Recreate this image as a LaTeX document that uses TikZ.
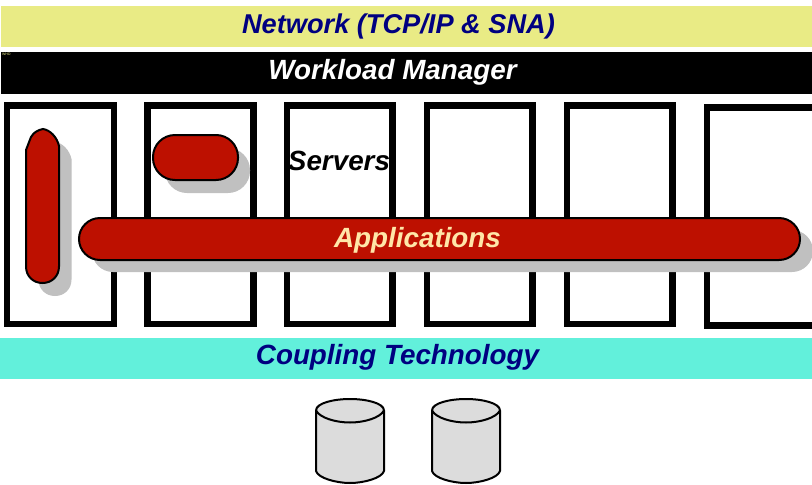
\documentclass[tikz,border=0pt]{standalone}
\usepackage{fontspec}
\setmainfont{Liberation Sans}
\definecolor{navy}{HTML}{000080}
\definecolor{barY}{HTML}{E9EB85}
\definecolor{barT}{HTML}{62F0DB}
\definecolor{pill}{HTML}{BD1000}
\definecolor{shadecol}{HTML}{C0C0C0}
\definecolor{cyl}{HTML}{DCDCDC}
\definecolor{cream}{HTML}{FFE6A8}
\tikzset{
  x=1pt,y=-1pt,
  px/.style={inner sep=0pt,outer sep=0pt},
  bar/.style={px,anchor=north west,minimum width=812pt,minimum height=#1},
  server/.style={px,draw=black,line width=6.5pt,anchor=north west,minimum width=105pt,minimum height=218.5pt},
  pillbox/.style={px,fill=pill,draw=black,line width=2pt,anchor=north west},
  pillshade/.style={px,fill=shadecol,anchor=north west},
  title/.style={font=\bfseries\itshape\fontsize{27.8}{30}\selectfont},
}
\begin{document}
\begin{tikzpicture}
\useasboundingbox (0,0) rectangle (812,485);
\fill[white] (0,0) rectangle (812,485);
\node[bar=41pt,fill=barY] (net) at (1,6) {};
\node[bar=42pt,fill=black] (wlm) at (1,52) {};
\node[bar=41pt,fill=barT] (cpl) at (0,338) {};
\node[title,text=navy,font=\bfseries\itshape\fontsize{27.2}{30}\selectfont] (netT) at (398.5,26) {Network (TCP/IP \& SNA)};
\node[title,text=white] (wlmT) at (392.5,72.5) {Workload Manager};
\node[title,text=navy] (cplT) at (397.5,357.5) {Coupling Technology};
\node[px,anchor=north west,text=barY,font=\fontsize{3.5}{4}\selectfont] (who) at (2,53.5) {WHO};
\node[server,minimum width=107pt] (s1) at (6.8,105.5) {};
\node[server,minimum width=106pt] (s2) at (147.3,105.5) {};
\node[server,minimum width=105.5pt] (s3) at (287,105.5) {};
\node[server,minimum width=105.5pt] (s4) at (427,105.5) {};
\node[server,minimum width=105.5pt] (s5) at (567,105.5) {};
\node[server,minimum width=112pt,minimum height=218pt] (s6) at (707,107.5) {};
% vertical pill
\newcommand{\vpill}{(26,150) -- (31,137) .. controls (34,132) and (38,130) .. (43,129) .. controls (50,130) and (57,137) .. (59,146) -- (59,266.5) .. controls (59,276) and (52,283) .. (42.5,283) .. controls (33,283) and (26,276) .. (26,266.5) -- cycle}
\fill[fill=shadecol,shift={(12.5pt,-13pt)}] \vpill;
\draw[fill=pill,draw=black,line width=2pt] \vpill;
% small pill
\node[pillshade,minimum width=85pt,minimum height=45pt,rounded corners=22pt] (p0) at (165,148) {};
\node[pillbox,minimum width=85pt,minimum height=45pt,rounded corners=22pt] (p1) at (153,135) {};
% long pill
\node[pillshade,minimum width=721pt,minimum height=42pt,rounded corners=21pt] (a0) at (92,230) {};
\node[pillbox,minimum width=721pt,minimum height=42pt,rounded corners=21pt] (a1) at (79,218) {};
\node[title,text=black] (srv) at (339,160.5) {Servers};
\node[title,text=cream] (appT) at (417.5,240.5) {Applications};
% cylinders
\newcommand{\drum}[1]{%
  \draw[fill=cyl,draw=black,line width=2pt,line join=round] (#1,410.5) -- (#1,471) .. controls (#1+2,478) and (#1+20,483) .. (#1+34,483) .. controls (#1+48,483) and (#1+66,478) .. (#1+68,471) -- (#1+68,410.5) .. controls (#1+68,403) and (#1+50,399) .. (#1+34,399) .. controls (#1+18,399) and (#1,403) .. (#1,410.5) -- cycle;
  \draw[draw=black,line width=2pt] (#1,410.5) .. controls (#1+4,418) and (#1+20,422.5) .. (#1+34,422.5) .. controls (#1+48,422.5) and (#1+64,418) .. (#1+68,410.5);}
\drum{316}
\drum{432}
\end{tikzpicture}
\end{document}
